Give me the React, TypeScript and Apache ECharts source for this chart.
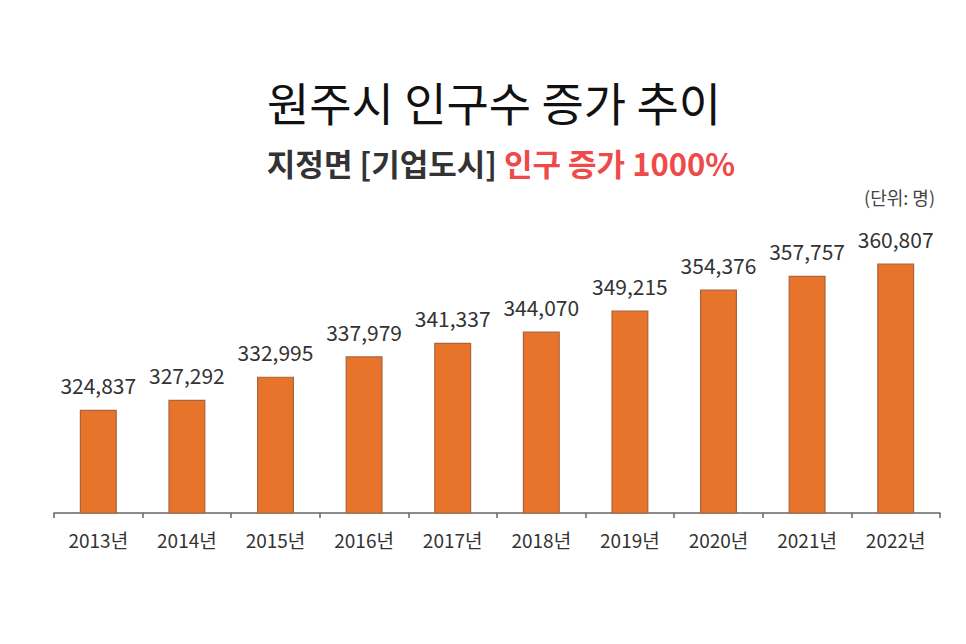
import React, { useEffect, useRef } from "react";
import * as echarts from "echarts";

const years = ["2013년", "2014년", "2015년", "2016년", "2017년", "2018년", "2019년", "2020년", "2021년", "2022년"];
const population = [324837, 327292, 332995, 337979, 341337, 344070, 349215, 354376, 357757, 360807];

const titleText = "원주시 인구수 증가 추이";
const subtitleLead = "지정면 [기업도시] ";
const subtitleHighlight = "인구 증가 1000%";
const unitText = "(단위: 명)";

const FONT = '"Noto Sans CJK KR", "Noto Sans", sans-serif';

export default function App() {
  const ref = useRef<HTMLDivElement>(null);

  useEffect(() => {
    if (!ref.current) return;
    const chart = echarts.init(ref.current, null, { renderer: "svg" });
    chart.setOption({
      animation: false,
      backgroundColor: "#ffffff",
      textStyle: { fontFamily: FONT },
      graphic: [
        {
          type: "text",
          x: 494,
          y: 101,
          style: {
            text: titleText,
            fontFamily: FONT,
            fontSize: 46,
            fontWeight: 400,
            fill: "#111111",
            textAlign: "center",
            textVerticalAlign: "middle",
          },
        },
        {
          type: "text",
          x: 501,
          y: 162,
          style: {
            text: `{a|${subtitleLead}}{b|${subtitleHighlight}}`,
            textAlign: "center",
            textVerticalAlign: "middle",
            rich: {
              a: { fontFamily: FONT, fontSize: 31, fontWeight: 700, fill: "#333333", color: "#333333" },
              b: { fontFamily: FONT, fontSize: 31, fontWeight: 700, fill: "#ee4a4a", color: "#ee4a4a" },
            },
          },
        },
        {
          type: "text",
          x: 935,
          y: 197,
          style: {
            text: unitText,
            fontFamily: FONT,
            fontSize: 18,
            fill: "#444444",
            textAlign: "right",
            textVerticalAlign: "middle",
          },
        },
      ],
      grid: { left: 54, right: 26, top: 226, bottom: 131, containLabel: false },
      xAxis: {
        type: "category",
        data: years,
        axisLine: { show: true, lineStyle: { color: "#666666", width: 1.5 } },
        axisTick: { show: true, length: 5, lineStyle: { color: "#666666", width: 1.5 } },
        axisLabel: { fontFamily: FONT, fontSize: 19, color: "#333333", margin: 17 },
      },
      yAxis: {
        type: "value",
        min: 299500,
        max: 370000,
        show: false,
        splitLine: { show: false },
      },
      series: [
        {
          type: "bar",
          data: population,
          barWidth: 37,
          itemStyle: { color: "#e8742c", borderColor: "#a8643c", borderWidth: 1.2 },
          label: {
            show: true,
            position: "top",
            distance: 14,
            fontFamily: FONT,
            fontSize: 21,
            color: "#333333",
            formatter: (p: any) => Number(p.value).toLocaleString("en-US"),
          },
        },
      ],
    });
    return () => chart.dispose();
  }, []);

  return <div ref={ref} style={{ position: "fixed", left: 0, top: 0, width: 966, height: 644 }} />;
}
